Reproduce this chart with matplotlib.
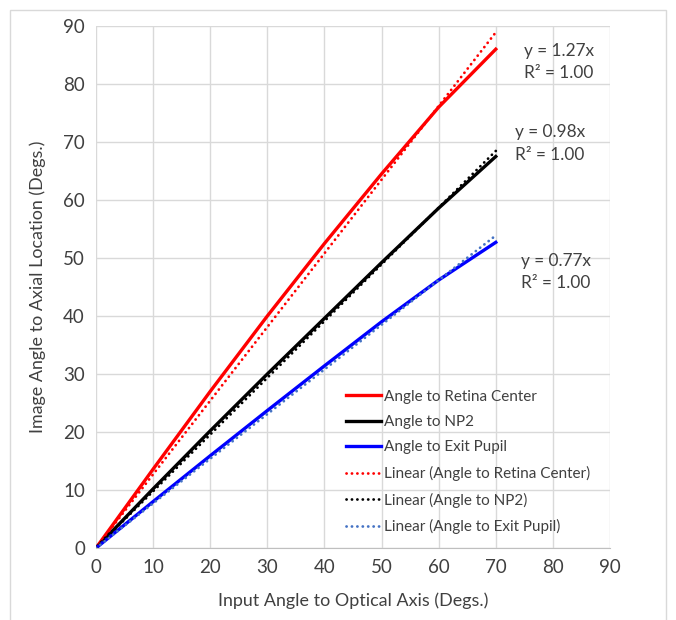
import numpy as np
import matplotlib
matplotlib.use("Agg")
import matplotlib.pyplot as plt
from matplotlib.patches import Rectangle

plt.rcParams['font.family'] = ['Lato', 'DejaVu Sans']

# Données
input_angle = [0, 10, 20, 30, 40, 50, 60, 70]
retina_center = [0, 13.6, 27.0, 40.0, 52.5, 64.5, 76.0, 86.0]
np2 = [0, 10.2, 20.2, 30.0, 39.6, 49.2, 58.6, 67.5]
exit_pupil = [0, 8.0, 15.9, 23.7, 31.4, 39.0, 46.2, 52.7]

series_names = ["Angle to Retina Center", "Angle to NP2", "Angle to Exit Pupil"]
series_values = [retina_center, np2, exit_pupil]
line_colors = ["#FF0000", "#000000", "#0000FF"]
trend_colors = ["#FF0000", "#000000", "#4472C4"]
label_pos = [(81, 83.8), (79.5, 69.7), (80.5, 47.6)]

fig = plt.figure(figsize=(6.76, 6.2), dpi=100)
fig.patches.append(Rectangle((10 / 676, -0.01), 656 / 676, 1 - 10 / 620 + 0.01,
                             transform=fig.transFigure, fill=False,
                             edgecolor="#d9d9d9", linewidth=1))
ax = fig.add_axes([96 / 676, 1 - 548 / 620, 514 / 676, 522 / 620])

x = np.array(input_angle, dtype=float)
solid_handles = []
trend_handles = []
for name, vals, c, tc, pos in zip(series_names, series_values, line_colors, trend_colors, label_pos):
    y = np.array(vals, dtype=float)
    h, = ax.plot(x, y, color=c, linewidth=2.4, label=name, zorder=3)
    solid_handles.append(h)
    # Courbe de tendance linéaire passant par l'origine
    slope = np.sum(x * y) / np.sum(x * x)
    fit = slope * x
    r2 = 1 - np.sum((y - fit) ** 2) / np.sum((y - y.mean()) ** 2)
    th, = ax.plot([0, x.max()], [0, slope * x.max()], color=tc, linewidth=2,
                  linestyle=(0, (0.05, 1.9)), dash_capstyle="round",
                  label=f"Linear ({name})", zorder=4)
    trend_handles.append(th)
    ax.text(pos[0], pos[1], f"y = {slope:.2f}x\nR² = {r2:.2f}", ha="center", va="center",
            fontsize=12.4, color="#404040", linespacing=1.5)

ax.set_xlim(0, 90)
ax.set_ylim(0, 90)
ax.set_xticks(range(0, 91, 10))
ax.set_yticks(range(0, 91, 10))
ax.grid(True, color="#d9d9d9", linewidth=1)
ax.set_axisbelow(True)
for side in ["top", "right", "left"]:
    ax.spines[side].set_visible(False)
ax.spines["bottom"].set_color("#bfbfbf")
ax.tick_params(length=0, labelsize=13.5, colors="#404040", pad=8)

ax.set_xlabel("Input Angle to Optical Axis (Degs.)", fontsize=12.9, color="#404040", labelpad=12)
ax.set_ylabel("Image Angle to Axial Location (Degs.)", fontsize=12.9, color="#404040", labelpad=12)

leg = ax.legend(handles=solid_handles + trend_handles, loc="lower left",
                bbox_to_anchor=(0.475, 0.015), frameon=False, fontsize=11,
                labelspacing=0.75, handlelength=2.3, handletextpad=0.15,
                borderaxespad=0)
for t in leg.get_texts():
    t.set_color("#404040")

fig.savefig("out.png", dpi=100, facecolor="white")
